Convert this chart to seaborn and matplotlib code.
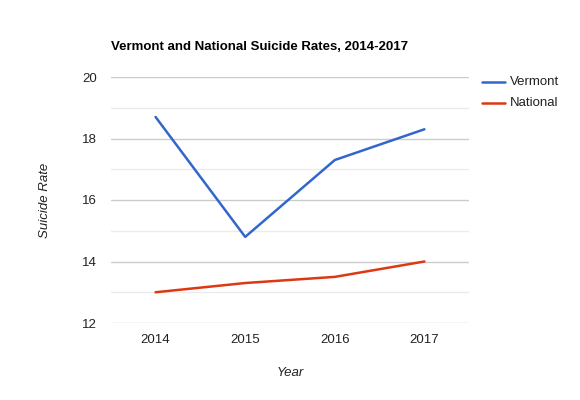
import numpy as np
import pandas as pd
import matplotlib
matplotlib.use("Agg")
import matplotlib.pyplot as plt
import seaborn as sns

years = ["2014", "2015", "2016", "2017"]
vermont = [18.7, 14.8, 17.3, 18.3]
national = [13.0, 13.3, 13.5, 14.0]

df = pd.DataFrame({
    "Year": years * 2,
    "Rate": vermont + national,
    "Series": ["Vermont"] * 4 + ["National"] * 4,
})

sns.set_style("white")
plt.rcParams['font.family'] = ['Liberation Sans', 'DejaVu Sans']

fig = plt.figure(figsize=(5.8, 4), dpi=100)
ax = fig.add_axes([0.191, 0.1925, 0.618, 0.615])

palette = {"Vermont": "#3366CC", "National": "#DC3912"}
sns.lineplot(data=df, x="Year", y="Rate", hue="Series", palette=palette,
             linewidth=1.8, ax=ax, legend=False, sort=False)

ax.set_xlim(-0.5, 3.5)
ax.set_ylim(12, 20)
ax.set_yticks([12, 14, 16, 18, 20])
ax.set_yticks([13, 15, 17, 19], minor=True)
ax.grid(axis="y", which="major", color="#CCCCCC", linewidth=1)
ax.grid(axis="y", which="minor", color="#EBEBEB", linewidth=1)
ax.set_axisbelow(True)
for s in ax.spines.values():
    s.set_visible(False)
ax.tick_params(axis="both", which="both", length=0, labelsize=9.5,
               labelcolor="#222222", pad=8)
ax.tick_params(axis="y", pad=10)

ax.set_xlabel("Year", fontsize=9.5, style="italic", color="#222222", labelpad=15)
ax.set_ylabel("Suicide Rate", fontsize=9.5, style="italic", color="#222222", labelpad=22)

fig.text(111 / 580, 1 - 47 / 400, "Vermont and National Suicide Rates, 2014-2017",
         fontsize=9.5, fontweight="bold", color="#000000", va="center", ha="left")

# legend drawn by hand in figure coords
for i, name in enumerate(["Vermont", "National"]):
    yy = 1 - (82 + 21 * i) / 400
    fig.add_artist(plt.Line2D([482 / 580, 505 / 580], [yy, yy],
                              color=palette[name], linewidth=1.8))
    fig.text(510 / 580, yy, name, fontsize=9.5, color="#222222", va="center", ha="left")

plt.savefig("out.png", dpi=100)
plt.close()
